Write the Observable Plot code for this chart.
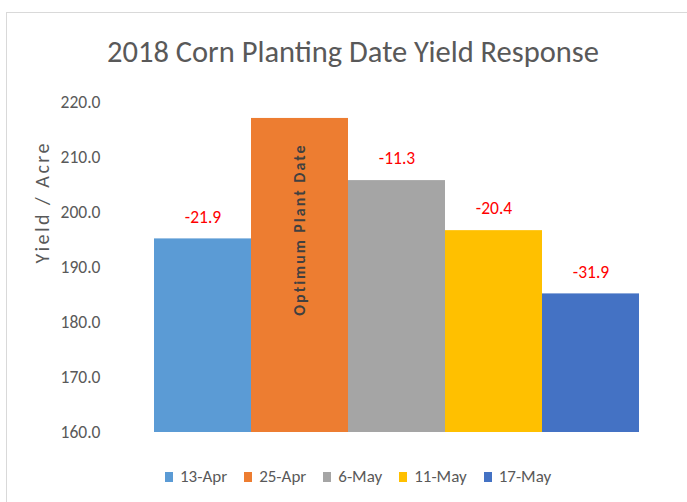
<!DOCTYPE html>
<html>
<head>
<meta charset="utf-8">
<script src="https://cdn.jsdelivr.net/npm/d3@7"></script>
<script src="https://cdn.jsdelivr.net/npm/@observablehq/plot@0.6"></script>
<style>
  html, body { margin: 0; padding: 0; background: #fff; }
  #wrap { position: relative; width: 687px; height: 502px; overflow: hidden;
          font-family: Carlito, "Open Sans", "DejaVu Sans", sans-serif; }
  #frame { position: absolute; left: 6px; top: 12px; right: 0; bottom: 0;
           border-top: 1.5px solid #d9d9d9; border-left: 1.5px solid #d9d9d9; }
  #title { position: absolute; left: 0; width: 706px; top: 34px; text-align: center;
           font-size: 30.5px; color: #595959; line-height: 36px; }
  #chart { position: absolute; left: 0; top: 90px; }
  #legend { position: absolute; top: 466px; left: 165px; display: flex; align-items: center;
            font-size: 17px; color: #595959; white-space: nowrap; line-height: 21px; }
  #legend .item { display: flex; align-items: center; margin-right: 17px; }
  #legend .sw { width: 8px; height: 10px; margin-right: 7px; }
  .ylab text { letter-spacing: 2.5px; }
  .optlab text { letter-spacing: 2px; }
</style>
</head>
<body>
<div id="wrap">
  <div id="frame"></div>
  <div id="title">2018 Corn Planting Date Yield Response</div>
  <div id="chart"></div>
  <div id="legend"></div>
</div>
<script>
// ---- data ----
const dates = ["13-Apr", "25-Apr", "6-May", "11-May", "17-May"];
const yields = [195.2, 217.1, 205.8, 196.7, 185.2];
const diffLabels = ["-21.9", "", "-11.3", "-20.4", "-31.9"];
const colors = ["#5B9BD5", "#ED7D31", "#A5A5A5", "#FFC000", "#4472C4"];
const yTicks = [160, 170, 180, 190, 200, 210, 220];
const optimumDate = "25-Apr";
const optimumText = "Optimum Plant Date";
const yLabel = "Yield / Acre";

const rows = dates.map((d, i) => ({date: d, yield: yields[i], label: diffLabels[i]}));
const font = 'Carlito, "Open Sans", "DejaVu Sans", sans-serif';

const chart = Plot.plot({
  width: 687,
  height: 360,
  marginTop: 12,
  marginBottom: 18,
  marginLeft: 152,
  marginRight: 47,
  style: {fontFamily: font, fontSize: "17.5px", color: "#595959", background: "transparent"},
  x: {domain: dates, padding: 0, axis: null},
  y: {domain: [yTicks[0], yTicks[yTicks.length - 1]], ticks: yTicks, tickFormat: d => d.toFixed(1),
      tickSize: 0, tickPadding: 52, label: null},
  color: {domain: dates, range: colors},
  marks: [
    Plot.barY(rows, {x: "date", y1: yTicks[0], y2: "yield", fill: "date", inset: 0}),
    Plot.text(rows.filter(d => d.label), {x: "date", y: "yield", text: "label", dy: -22,
      fill: "#FF0000", fontSize: 17.5}),
    Plot.text(rows.filter(d => d.date === optimumDate), {x: "date", y: "yield", text: () => optimumText,
      rotate: -90, textAnchor: "end", dy: 25, fill: "#404040", fontWeight: "bold", fontSize: 16,
      className: "optlab"}),
    Plot.text([yLabel], {text: d => d, frameAnchor: "left", rotate: -90, dx: -109.5, dy: -4,
      fill: "#595959", fontSize: 20, className: "ylab"})
  ]
});
document.getElementById("chart").appendChild(chart);

// legend
const lg = document.getElementById("legend");
dates.forEach((d, i) => {
  const it = document.createElement("div");
  it.className = "item";
  const sw = document.createElement("div");
  sw.className = "sw";
  sw.style.background = colors[i];
  const t = document.createElement("span");
  t.textContent = d;
  it.appendChild(sw); it.appendChild(t);
  lg.appendChild(it);
});
</script>
</body>
</html>
